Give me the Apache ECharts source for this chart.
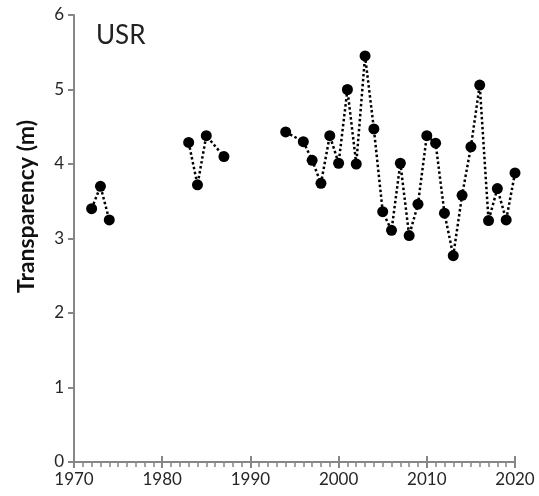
<!DOCTYPE html>
<html>
<head>
<meta charset="utf-8">
<script src="https://cdn.jsdelivr.net/npm/echarts@6/dist/echarts.min.js"></script>
<style>
  html, body { margin: 0; padding: 0; background: #fff; }
  #chart { width: 539px; height: 496px; }
</style>
</head>
<body>
<div id="chart"></div>
<script>
// observed years; null value = gap in the record (line is broken there)
const years = [1972, 1973, 1974, 1978, 1983, 1984, 1985, 1987, 1990,
  1994, 1996, 1997, 1998, 1999, 2000, 2001, 2002, 2003, 2004, 2005, 2006,
  2007, 2008, 2009, 2010, 2011, 2012, 2013, 2014, 2015, 2016, 2017, 2018,
  2019, 2020];
const transparency = [3.40, 3.70, 3.25, null, 4.29, 3.72, 4.38, 4.10, null,
  4.43, 4.30, 4.05, 3.74, 4.38, 4.01, 5.00, 4.00, 5.45, 4.47, 3.36, 3.11,
  4.01, 3.04, 3.46, 4.38, 4.28, 3.34, 2.77, 3.58, 4.23, 5.06, 3.24, 3.67,
  3.25, 3.88];
const siteName = 'USR';
const yTitle = 'Transparency (m)';

const axisGray = '#868686';
const font = 'Lato, "Open Sans", sans-serif';

const chart = echarts.init(document.getElementById('chart'));

const plotRect = { left: 74, right: 24, top: 15, bottom: 34 };

const option = {
  animation: false,
  textStyle: { fontFamily: font },
  // second grid on the same rectangle only carries the upper half of the crossing ticks
  grid: [{ ...plotRect }, { ...plotRect }],
  title: {
    text: siteName,
    left: 91,
    top: 18,
    textStyle: { fontFamily: font, fontSize: 26, fontWeight: 'normal', color: '#222' }
  },
  xAxis: [
    {
      gridIndex: 0,
      type: 'value',
      min: 1970,
      max: 2020,
      interval: 10,
      axisLine: { show: true, onZero: false, lineStyle: { color: axisGray, width: 2 } },
      axisTick: { show: true, length: 6, lineStyle: { color: axisGray, width: 2 } },
      minorTick: { show: true, splitNumber: 10, length: 5, lineStyle: { color: axisGray, width: 1.5 } },
      axisLabel: { fontSize: 17, color: '#262626', margin: 9, fontFamily: font, formatter: v => String(v) },
      splitLine: { show: false },
      minorSplitLine: { show: false }
    },
    {
      gridIndex: 1,
      type: 'value',
      min: 1970,
      max: 2020,
      interval: 10,
      axisLine: { show: true, onZero: false, lineStyle: { color: axisGray, width: 2, opacity: 0 } },
      axisTick: { show: true, inside: true, length: 6, lineStyle: { color: axisGray, width: 2 } },
      axisLabel: { show: false },
      splitLine: { show: false }
    }
  ],
  yAxis: [
    {
      gridIndex: 0,
      type: 'value',
      min: 0,
      max: 6,
      interval: 1,
      name: yTitle,
      nameLocation: 'middle',
      nameGap: 36,
      nameTextStyle: { fontSize: 23, fontWeight: 'bold', color: '#111', fontFamily: font, padding: [0, 0, 0, 64] },
      axisLine: { show: true, onZero: false, lineStyle: { color: axisGray, width: 2 } },
      axisTick: { show: true, length: 6, lineStyle: { color: axisGray, width: 2 } },
      axisLabel: { fontSize: 17, color: '#262626', margin: 10, fontFamily: font },
      splitLine: { show: false }
    },
    {
      gridIndex: 1,
      type: 'value',
      min: 0,
      max: 6,
      axisLine: { show: false, onZero: false },
      axisTick: { show: false },
      axisLabel: { show: false },
      splitLine: { show: false }
    }
  ],
  series: [
    {
      type: 'line',
      xAxisIndex: 0,
      yAxisIndex: 0,
      data: years.map((y, i) => [y, transparency[i]]),
      connectNulls: false,
      symbol: 'circle',
      symbolSize: 11,
      itemStyle: { color: '#000' },
      lineStyle: { color: '#000', width: 2.5, type: [2.5, 2.5] }
    }
  ]
};

chart.setOption(option);
</script>
</body>
</html>
